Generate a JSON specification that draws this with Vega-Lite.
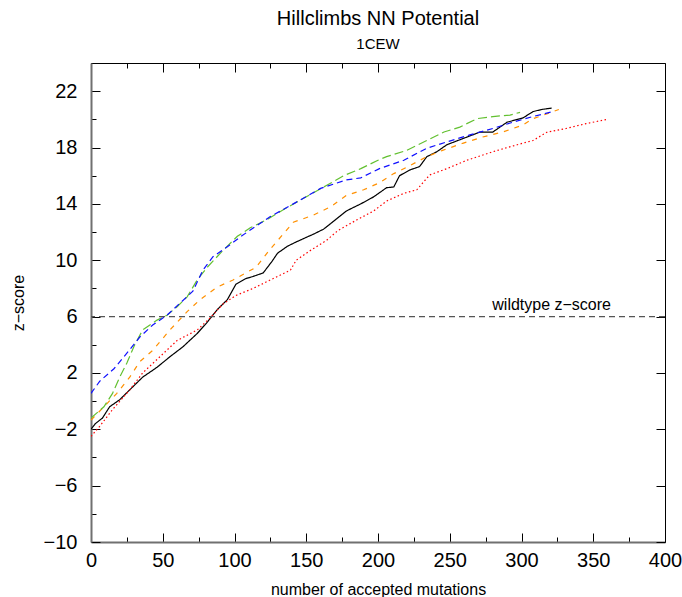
{
  "$schema": "https://vega.github.io/schema/vega-lite/v6.json",
  "width": 574,
  "height": 479,
  "autosize": "none",
  "padding": {"left": 91, "top": 63, "right": 17, "bottom": 55},
  "background": "white",
  "config": {
    "view": {"stroke": null},
    "font": "Liberation Sans"
  },
  "title": {
    "text": "Hillclimbs NN Potential",
    "subtitle": "1CEW",
    "anchor": "middle",
    "fontSize": 20,
    "fontWeight": "normal",
    "subtitleFontSize": 15,
    "subtitlePadding": 8,
    "offset": 1,
    "color": "black",
    "subtitleColor": "black"
  },
  "datasets": {
    "runs": [
      {"series": "a", "x": 0, "y": -2.0}, {"series": "a", "x": 3, "y": -1.6}, {"series": "a", "x": 8, "y": -1.2}, {"series": "a", "x": 13, "y": -0.4}, {"series": "a", "x": 20, "y": 0.1}, {"series": "a", "x": 27, "y": 0.8}, {"series": "a", "x": 36, "y": 1.7}, {"series": "a", "x": 46, "y": 2.4}, {"series": "a", "x": 55, "y": 3.15}, {"series": "a", "x": 64, "y": 3.85}, {"series": "a", "x": 74, "y": 4.8}, {"series": "a", "x": 81, "y": 5.6}, {"series": "a", "x": 88, "y": 6.5}, {"series": "a", "x": 95, "y": 7.2}, {"series": "a", "x": 101, "y": 8.3}, {"series": "a", "x": 108, "y": 8.7}, {"series": "a", "x": 113, "y": 8.85}, {"series": "a", "x": 120, "y": 9.1}, {"series": "a", "x": 126, "y": 9.9}, {"series": "a", "x": 130, "y": 10.5}, {"series": "a", "x": 137, "y": 11.0}, {"series": "a", "x": 143, "y": 11.3}, {"series": "a", "x": 155, "y": 11.85}, {"series": "a", "x": 162, "y": 12.2}, {"series": "a", "x": 167, "y": 12.6}, {"series": "a", "x": 178, "y": 13.5}, {"series": "a", "x": 188, "y": 14.0}, {"series": "a", "x": 197, "y": 14.5}, {"series": "a", "x": 206, "y": 15.15}, {"series": "a", "x": 211, "y": 15.2}, {"series": "a", "x": 215, "y": 16.0}, {"series": "a", "x": 222, "y": 16.4}, {"series": "a", "x": 229, "y": 16.65}, {"series": "a", "x": 234, "y": 17.35}, {"series": "a", "x": 241, "y": 17.7}, {"series": "a", "x": 248, "y": 18.2}, {"series": "a", "x": 257, "y": 18.55}, {"series": "a", "x": 266, "y": 18.9}, {"series": "a", "x": 271, "y": 19.1}, {"series": "a", "x": 280, "y": 19.1}, {"series": "a", "x": 290, "y": 19.8}, {"series": "a", "x": 301, "y": 20.1}, {"series": "a", "x": 308, "y": 20.55}, {"series": "a", "x": 314, "y": 20.7}, {"series": "a", "x": 321, "y": 20.8},
      {"series": "b", "x": 0, "y": -2.5}, {"series": "b", "x": 6, "y": -1.8}, {"series": "b", "x": 15, "y": -0.6}, {"series": "b", "x": 27, "y": 0.8}, {"series": "b", "x": 36, "y": 2.0}, {"series": "b", "x": 48, "y": 3.15}, {"series": "b", "x": 60, "y": 4.3}, {"series": "b", "x": 74, "y": 5.05}, {"series": "b", "x": 83, "y": 5.9}, {"series": "b", "x": 92, "y": 6.9}, {"series": "b", "x": 101, "y": 7.5}, {"series": "b", "x": 113, "y": 8.0}, {"series": "b", "x": 125, "y": 8.6}, {"series": "b", "x": 139, "y": 9.3}, {"series": "b", "x": 143, "y": 10.0}, {"series": "b", "x": 153, "y": 10.7}, {"series": "b", "x": 164, "y": 11.4}, {"series": "b", "x": 172, "y": 12.1}, {"series": "b", "x": 185, "y": 12.85}, {"series": "b", "x": 197, "y": 13.5}, {"series": "b", "x": 206, "y": 14.2}, {"series": "b", "x": 218, "y": 14.75}, {"series": "b", "x": 227, "y": 15.0}, {"series": "b", "x": 236, "y": 16.05}, {"series": "b", "x": 248, "y": 16.5}, {"series": "b", "x": 262, "y": 17.1}, {"series": "b", "x": 280, "y": 17.7}, {"series": "b", "x": 297, "y": 18.2}, {"series": "b", "x": 308, "y": 18.5}, {"series": "b", "x": 318, "y": 19.1}, {"series": "b", "x": 331, "y": 19.35}, {"series": "b", "x": 345, "y": 19.7}, {"series": "b", "x": 360, "y": 20.0},
      {"series": "c", "x": 0, "y": -1.35}, {"series": "c", "x": 9, "y": -0.4}, {"series": "c", "x": 18, "y": 0.55}, {"series": "c", "x": 27, "y": 1.7}, {"series": "c", "x": 34, "y": 2.8}, {"series": "c", "x": 43, "y": 3.6}, {"series": "c", "x": 55, "y": 5.05}, {"series": "c", "x": 67, "y": 6.35}, {"series": "c", "x": 76, "y": 7.2}, {"series": "c", "x": 88, "y": 8.1}, {"series": "c", "x": 99, "y": 8.6}, {"series": "c", "x": 115, "y": 9.5}, {"series": "c", "x": 125, "y": 10.8}, {"series": "c", "x": 136, "y": 12.1}, {"series": "c", "x": 141, "y": 12.7}, {"series": "c", "x": 155, "y": 13.2}, {"series": "c", "x": 167, "y": 13.8}, {"series": "c", "x": 178, "y": 14.6}, {"series": "c", "x": 190, "y": 15.0}, {"series": "c", "x": 201, "y": 15.5}, {"series": "c", "x": 211, "y": 16.15}, {"series": "c", "x": 220, "y": 16.6}, {"series": "c", "x": 234, "y": 17.35}, {"series": "c", "x": 245, "y": 17.8}, {"series": "c", "x": 259, "y": 18.3}, {"series": "c", "x": 273, "y": 18.75}, {"series": "c", "x": 287, "y": 19.1}, {"series": "c", "x": 301, "y": 19.6}, {"series": "c", "x": 308, "y": 20.05}, {"series": "c", "x": 318, "y": 20.4}, {"series": "c", "x": 326, "y": 20.7},
      {"series": "d", "x": 0, "y": -1.2}, {"series": "d", "x": 9, "y": -0.4}, {"series": "d", "x": 15, "y": 0.55}, {"series": "d", "x": 20, "y": 1.7}, {"series": "d", "x": 25, "y": 2.7}, {"series": "d", "x": 30, "y": 3.9}, {"series": "d", "x": 36, "y": 5.05}, {"series": "d", "x": 46, "y": 5.75}, {"series": "d", "x": 53, "y": 6.1}, {"series": "d", "x": 60, "y": 6.7}, {"series": "d", "x": 67, "y": 7.4}, {"series": "d", "x": 74, "y": 8.6}, {"series": "d", "x": 81, "y": 9.5}, {"series": "d", "x": 92, "y": 10.7}, {"series": "d", "x": 102, "y": 11.7}, {"series": "d", "x": 111, "y": 12.3}, {"series": "d", "x": 122, "y": 12.85}, {"series": "d", "x": 136, "y": 13.7}, {"series": "d", "x": 150, "y": 14.5}, {"series": "d", "x": 164, "y": 15.3}, {"series": "d", "x": 176, "y": 16.0}, {"series": "d", "x": 188, "y": 16.5}, {"series": "d", "x": 200, "y": 17.1}, {"series": "d", "x": 206, "y": 17.35}, {"series": "d", "x": 220, "y": 17.8}, {"series": "d", "x": 234, "y": 18.5}, {"series": "d", "x": 246, "y": 19.1}, {"series": "d", "x": 257, "y": 19.45}, {"series": "d", "x": 269, "y": 20.05}, {"series": "d", "x": 280, "y": 20.2}, {"series": "d", "x": 292, "y": 20.3}, {"series": "d", "x": 299, "y": 20.5},
      {"series": "e", "x": 0, "y": 0.55}, {"series": "e", "x": 6, "y": 1.4}, {"series": "e", "x": 16, "y": 2.3}, {"series": "e", "x": 25, "y": 3.4}, {"series": "e", "x": 34, "y": 4.55}, {"series": "e", "x": 43, "y": 5.4}, {"series": "e", "x": 53, "y": 6.1}, {"series": "e", "x": 62, "y": 6.95}, {"series": "e", "x": 71, "y": 7.8}, {"series": "e", "x": 78, "y": 9.3}, {"series": "e", "x": 85, "y": 10.25}, {"series": "e", "x": 95, "y": 10.95}, {"series": "e", "x": 104, "y": 11.65}, {"series": "e", "x": 111, "y": 12.15}, {"series": "e", "x": 125, "y": 13.1}, {"series": "e", "x": 141, "y": 14.0}, {"series": "e", "x": 160, "y": 15.1}, {"series": "e", "x": 178, "y": 15.7}, {"series": "e", "x": 188, "y": 15.85}, {"series": "e", "x": 197, "y": 16.3}, {"series": "e", "x": 201, "y": 16.5}, {"series": "e", "x": 218, "y": 17.1}, {"series": "e", "x": 234, "y": 17.95}, {"series": "e", "x": 248, "y": 18.4}, {"series": "e", "x": 264, "y": 18.9}, {"series": "e", "x": 280, "y": 19.35}, {"series": "e", "x": 294, "y": 19.8}, {"series": "e", "x": 308, "y": 20.2}, {"series": "e", "x": 322, "y": 20.55}
    ],
    "wild": [{"y": 6, "label": "wildtype z\u2212score", "lx": 321, "ly": 6.5}]
  },
  "layer": [
    {
      "data": {"name": "runs"},
      "mark": {"type": "line", "strokeWidth": 1.2, "clip": true},
      "encoding": {
        "x": {
          "field": "x", "type": "quantitative",
          "scale": {"domain": [0, 400], "nice": false, "zero": false},
          "axis": {
            "orient": "bottom",
            "values": [0, 25, 50, 75, 100, 125, 150, 175, 200, 225, 250, 275, 300, 325, 350, 375, 400],
            "labelExpr": "datum.value % 50 === 0 ? datum.label : ''",
            "tickSize": {"condition": {"test": "datum.value % 50 === 0", "value": -9}, "value": -5},
            "tickColor": "black",
            "domainColor": "#707070",
            "domainWidth": 2,
            "labelFontSize": 20,
            "labelColor": "black",
            "labelPadding": 17,
            "labelFlush": false,
            "labelOverlap": false,
            "grid": false,
            "title": "number of accepted mutations",
            "titleFontSize": 16,
            "titleFontWeight": "normal",
            "titleColor": "black",
            "titleX": 287,
            "titleY": 47,
            "titleBaseline": "middle"
          }
        },
        "y": {
          "field": "y", "type": "quantitative",
          "scale": {"domain": [-10, 24], "nice": false, "zero": false},
          "axis": {
            "orient": "left",
            "values": [-10, -8, -6, -4, -2, 0, 2, 4, 6, 8, 10, 12, 14, 16, 18, 20, 22, 24],
            "labelExpr": "(datum.value + 10) % 4 === 0 && datum.value < 24 ? replace(datum.label, '-', '\u2212') : ''",
            "tickSize": {"condition": {"test": "(datum.value + 10) % 4 === 0", "value": -9}, "value": -5},
            "tickColor": "black",
            "domainColor": "#707070",
            "domainWidth": 2,
            "labelFontSize": 20,
            "labelColor": "black",
            "labelPadding": 23,
            "labelFlush": false,
            "labelOverlap": false,
            "grid": false,
            "title": "z\u2212score",
            "titleFontSize": 16,
            "titleFontWeight": "normal",
            "titleColor": "black",
            "titleX": -73,
            "titleY": 239.5,
            "titleBaseline": "middle",
            "titleAlign": "center"
          }
        },
        "color": {
          "field": "series", "type": "nominal", "legend": null,
          "scale": {"domain": ["a", "b", "c", "d", "e"], "range": ["#000000", "#ff0000", "#ff9000", "#62c030", "#1010ff"]}
        },
        "strokeDash": {
          "field": "series", "type": "nominal", "legend": null,
          "scale": {"domain": ["a", "b", "c", "d", "e"], "range": [[1, 0], [1.5, 2.5], [5, 6], [9, 4], [6, 4]]}
        },
        "order": {"field": "x", "type": "quantitative"}
      }
    },
    {
      "data": {"name": "wild"},
      "layer": [
        {
          "mark": {"type": "rule", "color": "#555555", "strokeWidth": 1.3, "strokeDash": [6, 4]},
          "encoding": {
            "y": {
              "field": "y", "type": "quantitative",
              "scale": {"domain": [-10, 24], "nice": false, "zero": false},
              "axis": {
                "orient": "right",
                "values": [-10, -8, -6, -4, -2, 0, 2, 4, 6, 8, 10, 12, 14, 16, 18, 20, 22, 24],
                "labels": false,
                "title": null,
                "grid": false,
                "tickSize": {"condition": {"test": "(datum.value + 10) % 4 === 0", "value": -9}, "value": -5},
                "tickColor": "black",
                "domainColor": "black",
                "domainWidth": 1
              }
            }
          }
        },
        {
          "mark": {"type": "text", "fontSize": 16, "color": "black", "align": "center", "baseline": "alphabetic"},
          "encoding": {
            "x": {
              "field": "lx", "type": "quantitative",
              "scale": {"domain": [0, 400], "nice": false, "zero": false},
              "axis": {
                "orient": "top",
                "values": [0, 25, 50, 75, 100, 125, 150, 175, 200, 225, 250, 275, 300, 325, 350, 375, 400],
                "labels": false,
                "title": null,
                "grid": false,
                "tickSize": {"condition": {"test": "datum.value % 50 === 0", "value": -9}, "value": -5},
                "tickColor": "black",
                "domainColor": "black",
                "domainWidth": 1
              }
            },
            "y": {"field": "ly", "type": "quantitative"},
            "text": {"field": "label"}
          }
        }
      ]
    }
  ],
  "resolve": {"scale": {"x": "independent", "y": "independent"}}
}
